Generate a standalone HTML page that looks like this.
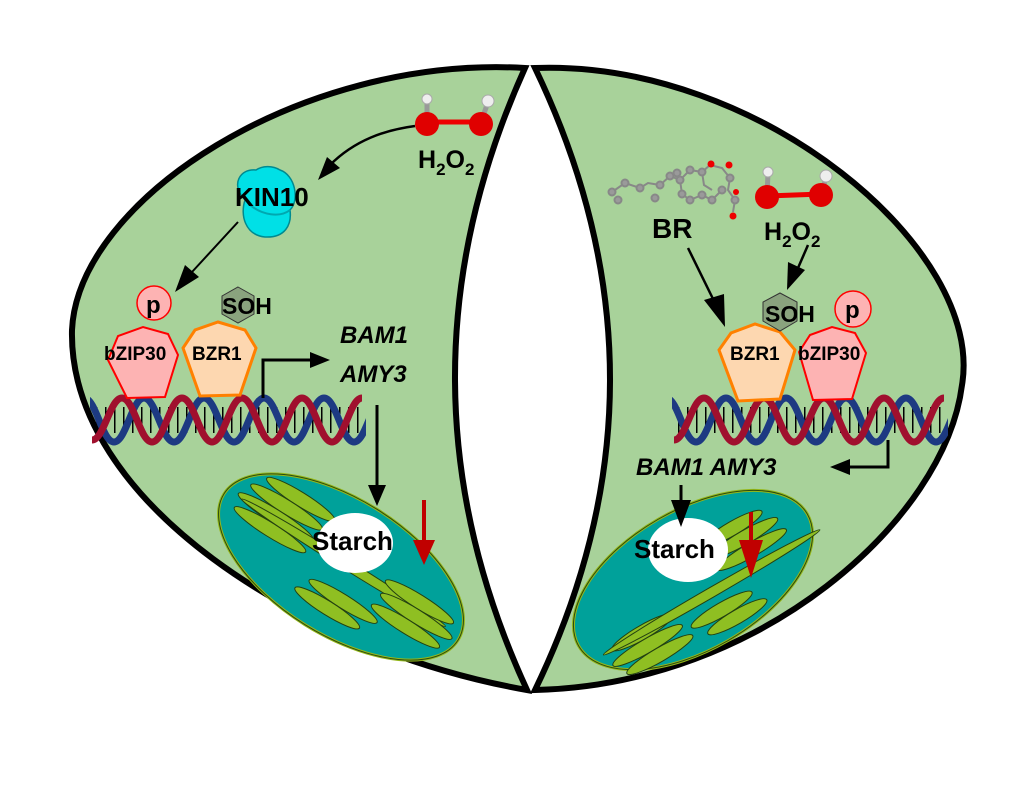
<!DOCTYPE html>
<html><head><meta charset="utf-8"><style>
html,body{margin:0;padding:0;background:#fff;width:1028px;height:788px;overflow:hidden}
svg{display:block}
text{font-family:"Liberation Sans",Arial,sans-serif;font-weight:bold;fill:#000}
</style></head><body>
<svg width="1028" height="788" viewBox="0 0 1028 788" xmlns="http://www.w3.org/2000/svg">
<defs>
<clipPath id="dl"><rect x="90" y="390" width="276" height="60"/></clipPath>
<g id="dna">
<line x1="96" y1="420" x2="360" y2="420" stroke="#000" stroke-width="26" stroke-dasharray="1.5 7.5"/>
<path d="M62,398 C74,398 80,442 92,442 S110,398 122,398 S140,442 152,442 S170,398 182,398 S200,442 212,442 S230,398 242,398 S260,442 272,442 S290,398 302,398 S320,442 332,442 S350,398 362,398 S380,442 392,442" fill="none" stroke="#1d3a82" stroke-width="7" transform="translate(22,0)"/>
<path d="M92,440 C104,440 110,398 122,398 S140,442 152,442 S170,398 182,398 S200,442 212,442 S230,398 242,398 S260,442 272,442 S290,398 302,398 S320,442 332,442 S350,398 362,398" fill="none" stroke="#a0102e" stroke-width="7"/>
</g>
</defs>
<!-- cells -->
<path d="M525,68 C300,55 78,200 72,330 C68,500 300,650 527,690 Q384,380 525,68 Z" fill="#a8d29a" stroke="#000" stroke-width="6"/>
<path d="M535,68 C760,60 985,250 962,385 C945,520 760,685 535,690 Q685,380 535,68 Z" fill="#a8d29a" stroke="#000" stroke-width="6"/>

<!-- LEFT chloroplast -->
<g transform="translate(341,567) rotate(32)">
<ellipse cx="0" cy="0" rx="138" ry="68" fill="#00a19a" stroke="#95b81a" stroke-width="3"/>
<ellipse cx="0" cy="0" rx="138" ry="68" fill="none" stroke="#2a4a10" stroke-width="1"/>
<g fill="#8fbf22" stroke="#234010" stroke-width="1">
<ellipse cx="-70" cy="-36" rx="40" ry="7"/>
<ellipse cx="-78" cy="-22" rx="42" ry="7"/>
<ellipse cx="-82" cy="-8" rx="44" ry="7"/>
<ellipse cx="-80" cy="6" rx="42" ry="7"/>
<ellipse cx="0" cy="-5" rx="120" ry="5"/>
<ellipse cx="20" cy="28" rx="40" ry="7"/>
<ellipse cx="10" cy="42" rx="38" ry="7"/>
<ellipse cx="85" cy="-12" rx="40" ry="7"/>
<ellipse cx="90" cy="2" rx="42" ry="7"/>
<ellipse cx="86" cy="16" rx="40" ry="7"/>
</g>
</g>
<ellipse cx="355" cy="543" rx="38" ry="30" fill="#fff"/>
<text x="312" y="550" font-size="26">Starch</text>
<line x1="377" y1="405" x2="377" y2="492" stroke="#000" stroke-width="3"/>
<polygon points="368,485 386,485 377,506" fill="#000"/>
<line x1="424" y1="500" x2="424" y2="545" stroke="#c00000" stroke-width="4"/>
<polygon points="413,540 435,540 424,565" fill="#c00000"/>

<!-- LEFT DNA -->
<g clip-path="url(#dl)"><use href="#dna"/></g>

<!-- LEFT proteins -->
<polygon points="108,360 118,336 143,327 168,334 178,355 165,397 127,398" fill="#fdb3b3" stroke="#ff0000" stroke-width="2"/>
<polygon points="183,348 195,330 218,322 245,330 256,348 240,395 200,396" fill="#fdd7b0" stroke="#ff8000" stroke-width="3"/>
<circle cx="154" cy="303" r="17" fill="#fdb3b3" stroke="#ff0000" stroke-width="1.5"/>
<text x="146" y="313" font-size="24">p</text>
<polygon points="238,287 254,296 254,314 238,323 222,314 222,296" fill="#8aa37e" stroke="#333" stroke-width="1"/>
<text x="222" y="314" font-size="23">SOH</text>
<text x="104" y="360" font-size="19">bZIP30</text>
<text x="192" y="360" font-size="19">BZR1</text>
<polyline points="263,398 263,360 315,360" fill="none" stroke="#000" stroke-width="3"/>
<polygon points="310,352 330,360 310,368" fill="#000"/>
<text x="340" y="343" font-size="24" font-style="italic">BAM1</text>
<text x="340" y="382" font-size="24" font-style="italic">AMY3</text>

<!-- LEFT top -->
<path d="M256,170 C240,168 230,185 245,200 C240,215 245,235 265,237 C285,238 292,225 290,210 C300,200 295,175 280,170 C272,165 262,166 256,170 Z" fill="#00e0e6" stroke="#008a90" stroke-width="1.5"/>
<path d="M250,205 C262,215 280,218 290,210" fill="none" stroke="#00a8b0" stroke-width="2"/>
<text x="235" y="206" font-size="26">KIN10</text>
<path d="M415,126 C385,130 355,140 330,165" fill="none" stroke="#000" stroke-width="2.5"/>
<polygon points="318,180 327,157 340,168" fill="#000"/>
<line x1="238" y1="222" x2="192" y2="272" stroke="#000" stroke-width="2"/>
<polygon points="175,292 185,265 199,277" fill="#000"/>
<line x1="427" y1="122" x2="481" y2="122" stroke="#e00" stroke-width="5"/>
<line x1="427" y1="122" x2="427" y2="100" stroke="#999" stroke-width="5"/>
<line x1="481" y1="122" x2="488" y2="102" stroke="#999" stroke-width="5"/>
<circle cx="427" cy="99" r="5" fill="#eee" stroke="#aaa"/>
<circle cx="488" cy="101" r="6" fill="#eee" stroke="#aaa"/>
<circle cx="427" cy="124" r="12" fill="#e00000"/>
<circle cx="481" cy="124" r="12" fill="#e00000"/>
<text x="418" y="168" font-size="25">H<tspan font-size="17" dy="7">2</tspan><tspan dy="-7">O</tspan><tspan font-size="17" dy="7">2</tspan></text>

<!-- RIGHT chloroplast -->
<g transform="translate(693,580) rotate(-30)">
<ellipse cx="0" cy="0" rx="132" ry="70" fill="#00a19a" stroke="#95b81a" stroke-width="3"/>
<ellipse cx="0" cy="0" rx="132" ry="70" fill="none" stroke="#2a4a10" stroke-width="1"/>
<g fill="#8fbf22" stroke="#234010" stroke-width="1">
<ellipse cx="-70" cy="20" rx="35" ry="7"/>
<ellipse cx="-72" cy="34" rx="40" ry="7"/>
<ellipse cx="-66" cy="48" rx="38" ry="7"/>
<ellipse cx="10" cy="20" rx="125" ry="5"/>
<ellipse cx="10" cy="40" rx="35" ry="7"/>
<ellipse cx="20" cy="54" rx="34" ry="7"/>
<ellipse cx="60" cy="-25" rx="34" ry="7"/>
<ellipse cx="66" cy="-11" rx="38" ry="7"/>
<ellipse cx="66" cy="3" rx="40" ry="7"/>
</g>
</g>
<ellipse cx="688" cy="550" rx="40" ry="32" fill="#fff"/>
<text x="634" y="558" font-size="26">Starch</text>
<line x1="681" y1="485" x2="681" y2="505" stroke="#000" stroke-width="3"/>
<polygon points="671,500 691,500 681,527" fill="#000"/>
<line x1="751" y1="512" x2="751" y2="545" stroke="#c00000" stroke-width="4"/>
<polygon points="739,540 763,540 751,578" fill="#c00000"/>

<!-- RIGHT DNA -->
<g transform="translate(582,0)"><g clip-path="url(#dl)"><use href="#dna"/></g></g>

<!-- RIGHT proteins -->
<polygon points="719,350 731,333 755,324 780,332 795,350 780,399 738,401" fill="#fdd7b0" stroke="#ff8000" stroke-width="3"/>
<polygon points="799,352 810,335 832,327 855,333 866,353 852,399 813,400" fill="#fdb3b3" stroke="#ff0000" stroke-width="2"/>
<polygon points="780,293 797,302 797,321 780,331 763,321 763,302" fill="#8aa37e" stroke="#333" stroke-width="1"/>
<text x="765" y="322" font-size="23">SOH</text>
<circle cx="853" cy="309" r="18" fill="#fdb3b3" stroke="#ff0000" stroke-width="1.5"/>
<text x="845" y="318" font-size="24">p</text>
<text x="730" y="360" font-size="19">BZR1</text>
<text x="798" y="360" font-size="19">bZIP30</text>
<polyline points="888,440 888,467 845,467" fill="none" stroke="#000" stroke-width="3"/>
<polygon points="850,459 830,467 850,475" fill="#000"/>
<text x="636" y="475" font-size="24" font-style="italic">BAM1 AMY3</text>

<!-- RIGHT top -->
<line x1="688" y1="248" x2="716" y2="305" stroke="#000" stroke-width="2.5"/>
<polygon points="704,300 724,294 725,327" fill="#000"/>
<line x1="808" y1="245" x2="798" y2="268" stroke="#000" stroke-width="2.5"/>
<polygon points="788,262 805,270 787,290" fill="#000"/>
<g stroke="#888" stroke-width="2" fill="#9a9a9a">
<path d="M612,192 L625,183 L640,188 L648,183 L660,185 L670,176 L680,180 L690,170 L702,172 L710,165 L722,168 L730,178 L728,190 L735,200 L733,212 M680,180 L682,194 L690,200 L702,195 L712,200 L722,190 M702,172 L704,185 L712,190" fill="none"/>
<circle cx="612" cy="192" r="3.5"/><circle cx="625" cy="183" r="3.5"/><circle cx="618" cy="200" r="3.5"/>
<circle cx="640" cy="188" r="3.5"/><circle cx="660" cy="185" r="3.5"/><circle cx="655" cy="198" r="3.5"/>
<circle cx="670" cy="176" r="3.5"/><circle cx="680" cy="180" r="3.5"/><circle cx="677" cy="173" r="3.5"/>
<circle cx="690" cy="170" r="3.5"/><circle cx="702" cy="172" r="3.5"/><circle cx="682" cy="194" r="3.5"/>
<circle cx="690" cy="200" r="3.5"/><circle cx="702" cy="195" r="3.5"/><circle cx="712" cy="200" r="3.5"/>
<circle cx="722" cy="190" r="3.5"/><circle cx="730" cy="178" r="3.5"/><circle cx="735" cy="200" r="3.5"/>
</g>
<circle cx="711" cy="164" r="3.5" fill="#e00"/><circle cx="729" cy="165" r="3.5" fill="#e00"/>
<circle cx="733" cy="216" r="3.5" fill="#e00"/><circle cx="736" cy="192" r="3" fill="#e00"/>
<text x="652" y="238" font-size="28">BR</text>
<line x1="767" y1="196" x2="822" y2="194" stroke="#e00" stroke-width="5"/>
<line x1="767" y1="196" x2="768" y2="173" stroke="#999" stroke-width="5"/>
<line x1="822" y1="194" x2="826" y2="176" stroke="#999" stroke-width="5"/>
<circle cx="768" cy="172" r="5" fill="#eee" stroke="#aaa"/>
<circle cx="826" cy="176" r="6" fill="#eee" stroke="#aaa"/>
<circle cx="767" cy="197" r="12" fill="#e00000"/>
<circle cx="821" cy="195" r="12" fill="#e00000"/>
<text x="764" y="240" font-size="25">H<tspan font-size="17" dy="7">2</tspan><tspan dy="-7">O</tspan><tspan font-size="17" dy="7">2</tspan></text>
</svg>
</body></html>
